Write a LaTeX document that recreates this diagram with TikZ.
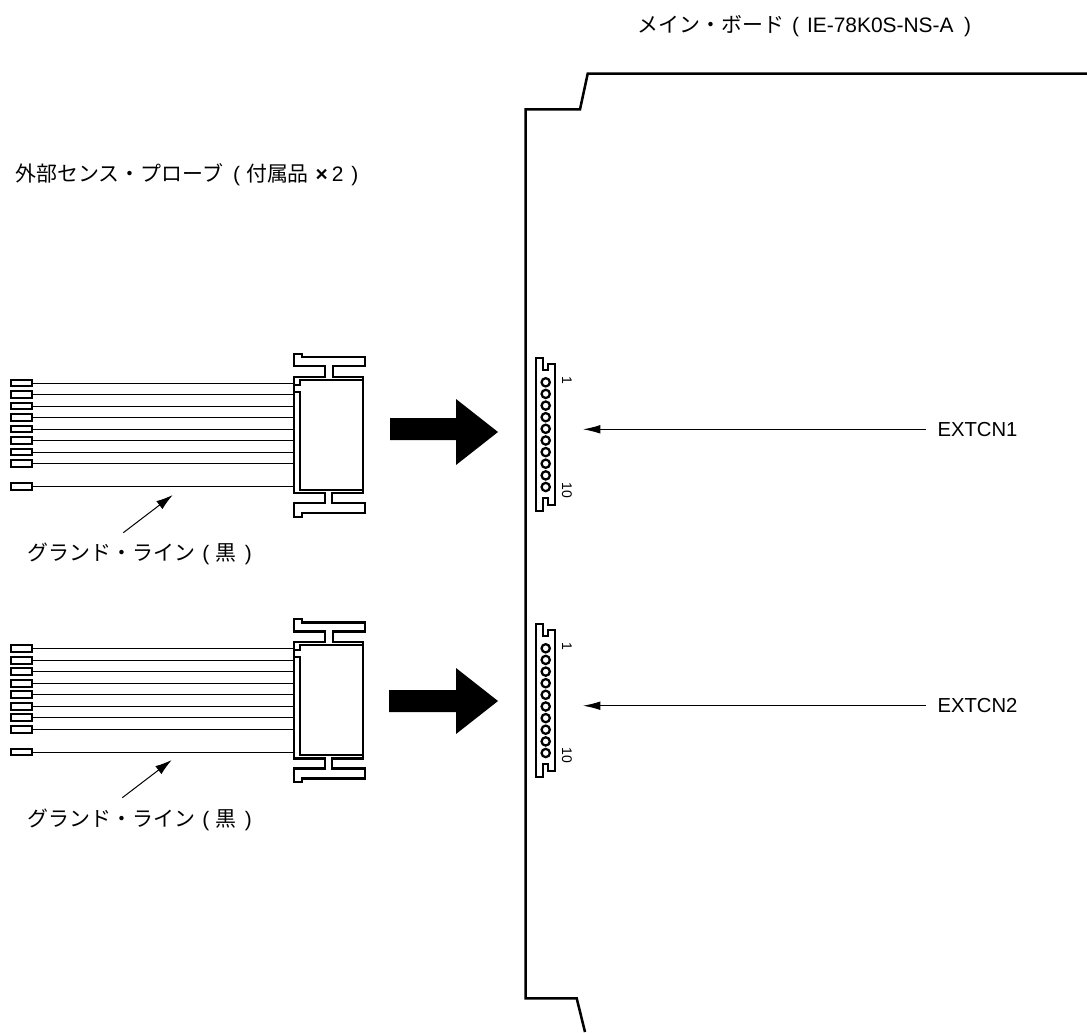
\documentclass[tikz,border=0pt]{standalone}
\usepackage{fontspec}
\setmainfont{Liberation Sans}
\newfontfamily\jpfont{Noto Sans CJK JP}
\usetikzlibrary{arrows.meta}
\newcommand{\jp}[1]{{\jpfont #1}}

\tikzset{every picture/.style={line width=0.75pt}}
\tikzset{
  padbox/.style={draw,line width=1.5pt,fill=white,minimum width=16pt,minimum height=5.2pt,inner sep=0pt},
  pinhole/.style={draw,circle,line width=1.7pt,minimum size=6.2pt,inner sep=0pt},
  wireline/.style={line width=0.75pt},
  housing/.style={line width=1.7pt,line join=miter},
  boardline/.style={line width=1.9pt},
  bigarrow/.style={fill=black,draw=none},
  leader/.style={line width=0.75pt,-{Latex[length=12.5pt,width=7.5pt]}},
  pointer/.style={line width=0.75pt,-{Latex[length=13pt,width=6.5pt]}},
  caption/.style={anchor=west,inner sep=0pt,font=\fontsize{15.7}{18}\selectfont},
  extlabel/.style={anchor=west,inner sep=0pt,font=\fontsize{15.2}{18}\selectfont},
  pinlabel/.style={inner sep=0pt,rotate=-90,font=\fontsize{10.5}{12}\selectfont}
}

\begin{document}
\begin{tikzpicture}[x=0.75pt,y=0.75pt,yscale=-1,xscale=1]
\useasboundingbox (0,0) rectangle (1087,1032);

%Main board outline
\draw [boardline] (1087,73.7) -- (587.7,73.7) -- (580,109.3) -- (525.7,109.3) -- (525.7,998.3) -- (576.7,998.3) -- (585,1032) ;

%Upper probe housing
\coordinate (hsgA) at (294,430);
\draw [housing] (294,354) -- (301.7,354) -- (301.7,357.3) -- (365,357.3) -- (365,366.3) -- (332.7,366.3) -- (332.7,376.7) -- (363.3,376.7) -- (363.3,493.3) -- (331.7,493.3) -- (331.7,503.3) -- (365,503.3) -- (365,513.3) -- (301.7,513.3) -- (301.7,516.7) -- (294,516.7) -- (294,503.3) -- (325,503.3) -- (325,493.3) -- (294,493.3) -- (294,376.7) -- (325,376.7) -- (325,366.3) -- (294,366.3) -- cycle ;
\draw [housing] (294,385) -- (300,385) -- (300,380) -- (363.3,380) ;
\draw [housing] (294,392) -- (300,392) -- (300,490) -- (363.3,490) ;

%Upper probe pads and wires
\node [padbox] (padA1) at (21.5,383) {};
\node [padbox] (padA2) at (21.5,394.5) {};
\node [padbox] (padA3) at (21.5,406) {};
\node [padbox] (padA4) at (21.5,417.5) {};
\node [padbox] (padA5) at (21.5,429) {};
\node [padbox] (padA6) at (21.5,440.5) {};
\node [padbox] (padA7) at (21.5,452) {};
\node [padbox] (padA8) at (21.5,463.5) {};
\node [padbox] (padA9) at (21.5,486.3) {};
\draw [wireline] (padA1.east) -- (padA1.east -| hsgA) ;
\draw [wireline] (padA2.east) -- (padA2.east -| hsgA) ;
\draw [wireline] (padA3.east) -- (padA3.east -| hsgA) ;
\draw [wireline] (padA4.east) -- (padA4.east -| hsgA) ;
\draw [wireline] (padA5.east) -- (padA5.east -| hsgA) ;
\draw [wireline] (padA6.east) -- (padA6.east -| hsgA) ;
\draw [wireline] (padA7.east) -- (padA7.east -| hsgA) ;
\draw [wireline] (padA8.east) -- (padA8.east -| hsgA) ;
\draw [wireline] (padA9.east) -- (padA9.east -| hsgA) ;

%Lower probe housing
\coordinate (hsgB) at (294,695);
\draw [housing] (294,619.3) -- (301.7,619.3) -- (301.7,622.6) -- (365,622.6) -- (365,631.6) -- (332.7,631.6) -- (332.7,642) -- (363.3,642) -- (363.3,758.6) -- (331.7,758.6) -- (331.7,768.6) -- (365,768.6) -- (365,778.6) -- (301.7,778.6) -- (301.7,782) -- (294,782) -- (294,768.6) -- (325,768.6) -- (325,758.6) -- (294,758.6) -- (294,642) -- (325,642) -- (325,631.6) -- (294,631.6) -- cycle ;
\draw [housing] (294,650.3) -- (300,650.3) -- (300,645.3) -- (363.3,645.3) ;
\draw [housing] (294,657.3) -- (300,657.3) -- (300,755.3) -- (363.3,755.3) ;

%Lower probe pads and wires
\node [padbox] (padB1) at (21.5,648.7) {};
\node [padbox] (padB2) at (21.5,660.2) {};
\node [padbox] (padB3) at (21.5,671.7) {};
\node [padbox] (padB4) at (21.5,683.2) {};
\node [padbox] (padB5) at (21.5,694.7) {};
\node [padbox] (padB6) at (21.5,706.2) {};
\node [padbox] (padB7) at (21.5,717.7) {};
\node [padbox] (padB8) at (21.5,729.2) {};
\node [padbox] (padB9) at (21.5,752) {};
\draw [wireline] (padB1.east) -- (padB1.east -| hsgB) ;
\draw [wireline] (padB2.east) -- (padB2.east -| hsgB) ;
\draw [wireline] (padB3.east) -- (padB3.east -| hsgB) ;
\draw [wireline] (padB4.east) -- (padB4.east -| hsgB) ;
\draw [wireline] (padB5.east) -- (padB5.east -| hsgB) ;
\draw [wireline] (padB6.east) -- (padB6.east -| hsgB) ;
\draw [wireline] (padB7.east) -- (padB7.east -| hsgB) ;
\draw [wireline] (padB8.east) -- (padB8.east -| hsgB) ;
\draw [wireline] (padB9.east) -- (padB9.east -| hsgB) ;

%Big arrows
\draw [bigarrow] (390,418) -- (456,418) -- (456,399) -- (498,432) -- (456,465) -- (456,440) -- (390,440) -- cycle ;
\draw [bigarrow] (389,690) -- (456,690) -- (456,668) -- (498,701) -- (456,734) -- (456,712) -- (389,712) -- cycle ;

%Ground line leaders
\coordinate (tipA) at (172.7,495);
\coordinate (tipB) at (171.7,760);
\coordinate (tailA) at (123.3,532.7);
\coordinate (tailB) at (122.3,797.7);
\draw [leader] (tailA) -- (tipA) ;
\draw [leader] (tailB) -- (tipB) ;

%Connector EXTCN1
\draw [housing] (536,358.3) -- (543.3,358.3) -- (543.3,370.3) -- (548.3,370.3) -- (548.3,364.3) -- (555,364.3) -- (555,505) -- (548.3,505) -- (548.3,498.3) -- (543.3,498.3) -- (543.3,510.7) -- (536,510.7) -- cycle ;
\node [pinhole] (holeA1) at (545.7,382.3) {};
\node [pinhole] (holeA2) at (545.7,393.9) {};
\node [pinhole] (holeA3) at (545.7,405.6) {};
\node [pinhole] (holeA4) at (545.7,417.2) {};
\node [pinhole] (holeA5) at (545.7,428.8) {};
\node [pinhole] (holeA6) at (545.7,440.5) {};
\node [pinhole] (holeA7) at (545.7,452.1) {};
\node [pinhole] (holeA8) at (545.7,463.7) {};
\node [pinhole] (holeA9) at (545.7,475.4) {};
\node [pinhole] (holeA10) at (545.7,487) {};

%Connector EXTCN2
\draw [housing] (536,624.3) -- (543.3,624.3) -- (543.3,636.3) -- (548.3,636.3) -- (548.3,630.3) -- (555,630.3) -- (555,771) -- (548.3,771) -- (548.3,764.3) -- (543.3,764.3) -- (543.3,776.7) -- (536,776.7) -- cycle ;
\node [pinhole] (holeB1) at (545.7,648.3) {};
\node [pinhole] (holeB2) at (545.7,659.9) {};
\node [pinhole] (holeB3) at (545.7,671.6) {};
\node [pinhole] (holeB4) at (545.7,683.2) {};
\node [pinhole] (holeB5) at (545.7,694.8) {};
\node [pinhole] (holeB6) at (545.7,706.5) {};
\node [pinhole] (holeB7) at (545.7,718.1) {};
\node [pinhole] (holeB8) at (545.7,729.7) {};
\node [pinhole] (holeB9) at (545.7,741.4) {};
\node [pinhole] (holeB10) at (545.7,753) {};

% Text Node
\node [caption] (boardlabel) at (637,26) {\jp{メイン・ボード}\hspace{6pt}(\hspace{6pt}IE-78K0S-NS-A\hspace{8pt})};
% Text Node
\node [caption] (probelabel) at (15,175) {\jp{外部センス・プローブ}\hspace{7.5pt}(\hspace{4.5pt}\jp{付属品}\hspace{5pt}\textbf{×}\hspace{3pt}2\hspace{6pt})};
% Text Node
\node [caption] (gndlabelA) at (27,554) {\jp{グランド・ライン}\hspace{5.5pt}(\hspace{5pt}\jp{黒}\hspace{6pt})};
% Text Node
\node [caption] (gndlabelB) at (27,820) {\jp{グランド・ライン}\hspace{5.5pt}(\hspace{5pt}\jp{黒}\hspace{6pt})};
% Text Node
\node [extlabel] (extA) at (937,429.3) {EXTCN1};
% Text Node
\node [extlabel] (extB) at (937,705.7) {EXTCN2};
% Text Node
\node [pinlabel] (oneA) at (567,380) {1};
% Text Node
\node [pinlabel] (tenA) at (567,490) {10};
% Text Node
\node [pinlabel] (oneB) at (567,646) {1};
% Text Node
\node [pinlabel] (tenB) at (567,755) {10};

%EXTCN pointers
\coordinate (ptrA) at (583,429.3);
\coordinate (ptrB) at (583,705.7);
\draw [pointer] (extA.west) ++(-11,0) -- (ptrA) ;
\draw [pointer] (extB.west) ++(-11,0) -- (ptrB) ;

\end{tikzpicture}
\end{document}
